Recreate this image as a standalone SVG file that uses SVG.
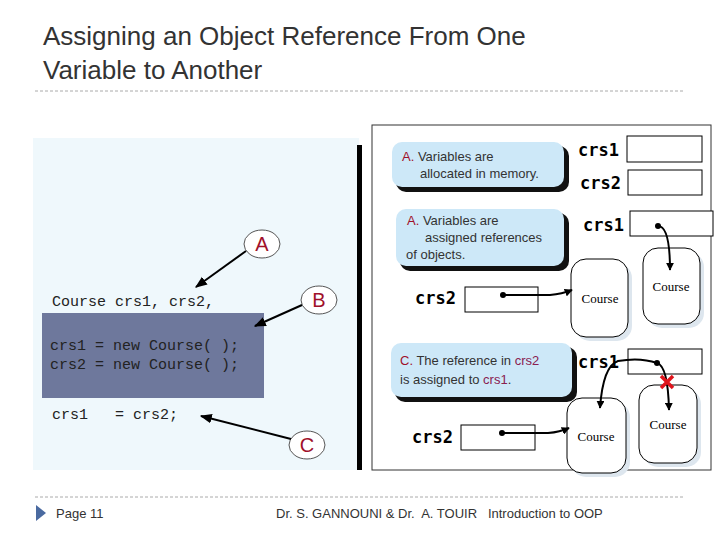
<svg xmlns="http://www.w3.org/2000/svg" width="720" height="540" viewBox="0 0 720 540">
<defs>
<marker id="ah" viewBox="0 0 10 10" refX="9" refY="5" markerWidth="4" markerHeight="4" orient="auto"><path d="M0,0L10,5L0,10z" fill="#000"/></marker>
<marker id="sh" viewBox="0 0 10 10" refX="9" refY="5" markerWidth="6" markerHeight="6" orient="auto"><path d="M0,1L10,5L0,9z" fill="#000"/></marker>
<style>
.t{font-family:"Liberation Sans",Arial,sans-serif}
.m{font-family:"Liberation Mono","Courier New",monospace;font-size:15px;fill:#222;white-space:pre}
.b{font-family:"DejaVu Sans Mono",monospace;font-weight:bold;font-size:17px}
.cs{font-family:"Liberation Serif",serif;font-size:13px}
.box{fill:#fff;stroke:#000;stroke-width:1}
.ob{fill:#fff;stroke:#000;stroke-width:1}
.obs{fill:#dde6ee}
.cl{fill:#cde8f8}
.cls{fill:#111}
.ln{fill:none;stroke:#000;stroke-width:2}
.ell{fill:#fff;stroke:#555;stroke-width:1}
.lt{font-family:"Liberation Sans",Arial,sans-serif;font-size:20px;fill:#a0102a}
</style>
</defs>
<text class="t" x="43" y="45" font-size="26" fill="#333">Assigning an Object Reference From One</text>
<text class="t" x="43" y="79" font-size="26" fill="#333">Variable to Another</text>
<line x1="35" y1="91" x2="685" y2="91" stroke="#aaa" stroke-dasharray="3,2"/>
<line x1="35" y1="497" x2="685" y2="497" stroke="#aaa" stroke-dasharray="3,2"/>
<g id="left">
<rect x="33" y="138" width="326" height="332" fill="#eff8fc"/>
<rect x="357" y="145" width="5" height="325" fill="#000"/>
<rect x="42" y="313" width="222" height="85" fill="#6e789c"/>
<text class="m" x="52" y="306">Course crs1, crs2,</text>
<text class="m" x="50" y="350">crs1 = new Course( );</text>
<text class="m" x="50" y="369">crs2 = new Course( );</text>
<text class="m" x="52" y="419" xml:space="preserve">crs1   = crs2;</text>
</g>
<g id="callA"><ellipse class="ell" cx="262" cy="244" rx="18" ry="14"/><text class="lt" x="262" y="251" text-anchor="middle">A</text></g>
<g id="callB"><ellipse class="ell" cx="319" cy="300" rx="18" ry="14"/><text class="lt" x="319" y="307" text-anchor="middle">B</text></g>
<g id="callC"><ellipse class="ell" cx="307" cy="445" rx="18" ry="14"/><text class="lt" x="307" y="452" text-anchor="middle">C</text></g>
<g id="right">
<rect x="372" y="125" width="339" height="345" fill="#fff" stroke="#333"/>
</g>
<g id="cA1">
<rect class="cls" x="396" y="146" width="173" height="46" rx="10"/>
<rect class="cl" x="392" y="142" width="172" height="45" rx="10"/>
<text class="t" x="402" y="161" font-size="13" fill="#333"><tspan fill="#a0102a">A.</tspan> Variables are</text>
<text class="t" x="420" y="178" font-size="13" fill="#333">allocated in memory.</text>
</g>
<g id="cA2">
<rect class="cls" x="400" y="213" width="169" height="58" rx="10"/>
<rect class="cl" x="396" y="209" width="168" height="57" rx="10"/>
<text class="t" x="407" y="225" font-size="13" fill="#333"><tspan fill="#a0102a">A.</tspan> Variables are</text>
<text class="t" x="425" y="242" font-size="13" fill="#333">assigned references</text>
<text class="t" x="406" y="259" font-size="13" fill="#333">of objects.</text>
</g>
<g id="cC">
<rect class="cls" x="395" y="347" width="182" height="55" rx="10"/>
<rect class="cl" x="391" y="343" width="181" height="54" rx="10"/>
<text class="t" x="400" y="365" font-size="13" fill="#333"><tspan fill="#a0102a">C.</tspan> The reference in <tspan fill="#8a2050">crs2</tspan></text>
<text class="t" x="400" y="384" font-size="13" fill="#333">is assigned to <tspan fill="#8a2050">crs1</tspan>.</text>
</g>
<g id="vars">
<text class="b" x="578" y="156">crs1</text><rect class="box" x="627" y="136" width="75" height="26"/>
<text class="b" x="580" y="189">crs2</text><rect class="box" x="628" y="170" width="74" height="25"/>
<text class="b" x="583" y="231">crs1</text><rect class="box" x="630" y="211" width="83" height="25"/>
<text class="b" x="415" y="304">crs2</text><rect class="box" x="465" y="287" width="73" height="25"/>
<text class="b" x="578" y="368">crs1</text><rect class="box" x="628" y="349" width="74" height="25"/>
<text class="b" x="412" y="443">crs2</text><rect class="box" x="461" y="425" width="74" height="25"/>
</g>
<g id="objs">
<rect class="obs" x="647" y="252" width="57" height="76" rx="15"/><rect class="ob" x="643" y="248" width="57" height="76" rx="15"/><text class="cs" x="671" y="291" text-anchor="middle">Course</text>
<rect class="obs" x="575" y="263" width="57" height="78" rx="15"/><rect class="ob" x="571" y="259" width="57" height="78" rx="15"/><text class="cs" x="600" y="303" text-anchor="middle">Course</text>
<rect class="obs" x="643" y="389" width="58" height="78" rx="15"/><rect class="ob" x="639" y="385" width="58" height="78" rx="15"/><text class="cs" x="668" y="429" text-anchor="middle">Course</text>
<rect class="obs" x="571" y="402" width="59" height="75" rx="15"/><rect class="ob" x="567" y="398" width="59" height="75" rx="15"/><text class="cs" x="596" y="441" text-anchor="middle">Course</text>
</g>
<g id="connectors">
<line class="ln" x1="246" y1="251" x2="196" y2="287" stroke-width="3" marker-end="url(#sh)"/>
<line class="ln" x1="302" y1="305" x2="255" y2="326" stroke-width="3" marker-end="url(#sh)"/>
<line class="ln" x1="291" y1="439" x2="201" y2="416" stroke-width="3" marker-end="url(#sh)"/>
<circle cx="658" cy="226" r="3"/>
<path class="ln" d="M658,226 Q670,226 670,270" marker-end="url(#ah)"/>
<circle cx="503" cy="295" r="3"/>
<path class="ln" d="M503,295 L550,295 Q562,294 572,290" marker-end="url(#ah)"/>
<circle cx="502" cy="433" r="3"/>
<path class="ln" d="M502,433 L548,433 Q560,432 569,428" marker-end="url(#ah)"/>
<circle cx="657" cy="363" r="3"/>
<path class="ln" d="M657,363 Q640,357 618,361 Q603,366 600,408" marker-end="url(#ah)"/>
<path class="ln" d="M657,363 Q668,366 669,410" marker-end="url(#ah)"/>
<path d="M661,376L673,388M673,376L661,388" stroke="#e0141c" stroke-width="3.5"/>
</g>
<g id="footer">
<path d="M36,505L46,513L36,521z" fill="#4a6aa0"/>
<text class="t" x="56" y="518" font-size="13" fill="#333">Page 11</text>
<text class="t" x="276" y="518" font-size="13" fill="#333" xml:space="preserve">Dr. S. GANNOUNI &amp; Dr.  A. TOUIR   Introduction to OOP</text>
</g>
</svg>
